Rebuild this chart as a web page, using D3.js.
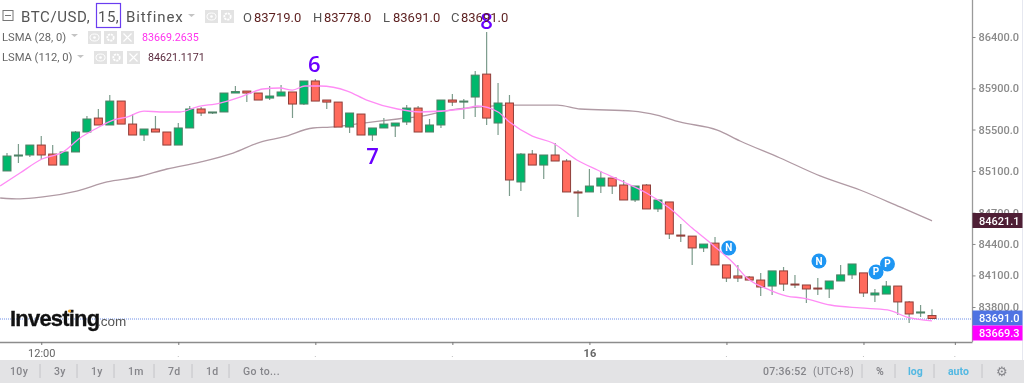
<!DOCTYPE html>
<html><head><meta charset="utf-8">
<script src="https://cdn.jsdelivr.net/npm/d3@7/dist/d3.min.js"></script>
<style>
html,body{margin:0;padding:0;background:#fff;overflow:hidden}
svg{display:block;font-family:Roboto,"Open Sans",sans-serif;filter:blur(.35px)}
</style></head><body><svg id="c" width="1024" height="383"></svg>
<script>
const opens=[85100,85244,85254,85350,85263,85157,85283,85476,85611,85544,85776,85553,85447,85505,85476,85350,85515,85699,85660,85670,85854,85873,85854,85805,85825,85864,85747,85971,85786,85766,85524,85650,85447,85515,85534,85573,85708,85476,85544,85786,85766,85815,86038,85563,85757,84994,85263,85157,85254,85196,84898,84898,84955,85032,84965,84821,84965,84735,84802,84485,84475,84362,84408,84200,84095,84085,84056,83999,84143,84018,84009,83980,83971,84047,84105,84124,83914,83923,83999,83848,83743,83719];
const closes=[85244,85254,85350,85254,85157,85283,85476,85602,85544,85776,85553,85447,85505,85476,85350,85515,85699,85660,85670,85854,85868,85854,85786,85825,85864,85747,85971,85776,85766,85524,85660,85447,85515,85553,85563,85708,85476,85544,85786,85766,85776,86028,85611,85757,85013,85263,85157,85254,85196,84898,84888,84955,85032,84955,84821,84955,84735,84821,84495,84475,84362,84399,84200,84075,84075,84056,83990,84143,84018,84009,83971,83971,84047,84105,84209,83933,83933,83999,83848,83734,83753,83691];
const highs=[85273,85360,85350,85437,85350,85283,85485,85631,85699,85834,85776,85650,85505,85631,85476,85563,85728,85718,85670,85854,85922,85873,85854,85922,85932,85864,85971,85990,85786,85766,85660,85650,85515,85611,85563,85737,85728,85602,85786,85844,85795,86067,86448,85951,85834,85273,85302,85254,85370,85215,84917,85119,85100,85032,85013,84955,84975,84821,84802,84591,84475,84399,84466,84200,84200,84095,84124,84143,84181,84105,84009,84075,84047,84200,84209,84124,83971,84047,83999,83857,83819,83778];
const lows=[85100,85177,85234,85215,85157,85157,85283,85476,85544,85544,85553,85447,85389,85476,85350,85350,85515,85631,85650,85670,85858,85766,85786,85786,85825,85611,85737,85776,85699,85524,85466,85447,85389,85515,85428,85544,85476,85476,85515,85728,85602,85621,85544,85447,84859,84907,85157,85023,85196,84898,84658,84898,84888,84878,84821,84802,84735,84706,84447,84418,84200,84324,84200,84037,84037,84056,83904,83914,83952,83980,83838,83914,83885,84047,84066,83895,83848,83923,83724,83648,83705,83691];

const lsma28Bars=[-0.6,1.14,3.06,4.9,6.4,7.9,9.3,10.5,12,13.4,15.15,16.6,18.65,20.4,21.3,22.4,23.9,25,26.1,27.4,29.8,31.5,34.2,36.2,39.9,41.2,43,44,46,47.8,49.9,51.7,54,56,58,60,61.8,63.6,64.8,66.8,68.3,69.7,72.1,74.7,77.1,78.8,81];
const lsma28Values=[84955,85080,85215,85283,85418,85515,85592,85621,85679,85670,85670,85718,85757,85815,85854,85893,85903,85883,85922,85922,85873,85786,85699,85670,85699,85728,85670,85573,85437,85370,85206,85109,84994,84888,84744,84552,84390,84219,84075,83961,83904,83885,83819,83791,83772,83705,83669.3];
const lsma112Bars=[-0.6,1.14,3.15,6.1,8.76,11.4,14,16.9,19.8,22.2,24.2,26.8,28.3,31.2,34.2,36.8,38.8,41.2,44.3,48.2,50.2,54.8,56.9,58.9,62.2,64.2,67.7,71.2,74.7,78.2,81];
const lsma112Values=[84840,84831,84850,84907,84994,85042,85119,85186,85273,85379,85428,85515,85524,85563,85602,85640,85689,85718,85737,85737,85699,85679,85640,85573,85495,85389,85225,85052,84917,84754,84621.1];

const priceTicks=[86400,85900,85500,85100,84700,84400,84100,83800];
const timeTickBars=[3,15,27,39,51,63,75,83];
const timeTickLabels=["12:00","","","","16","","",""];
const waveLabels=["6","7","8"], waveBars=[26.9,32,42], wavePrices=[86135,85244,86560];
const eventLabels=["N","N","P","P"], eventBars=[63.2,71.1,76.1,77.1], eventPrices=[84362,84237,84133,84209];
const ranges=["10y","3y","1y","1m","7d","1d","Go to..."];
const lastPrice=83691.0, lastLsma=83669.3;

const svg=d3.select("#c");
const x=d3.scaleLinear().domain([0,81]).range([7,932]);
const y=d3.scaleLog().domain([83800,86400]).range([307,37]);
const W=972.5,B=342;
const GREEN="#00b86c",RED="#ff6a5c",GB="#4f8066",RB="#8f3f3a",WICK="#7c9c8c";

svg.append("defs").append("clipPath").attr("id","p").append("rect").attr("width",W).attr("height",B);
const plot=svg.append("g").attr("clip-path","url(#p)");
plot.append("line").attr("x1",0).attr("x2",W).attr("y1",y(lastPrice)+.5).attr("y2",y(lastPrice)+.5).attr("stroke","#6f8fe8").attr("stroke-dasharray","1 1");

const line=d3.line().curve(d3.curveMonotoneX);
const path=(b,v)=>line(b.map((d,i)=>[x(d),y(v[i])]));

plot.append("path").attr("d",path(lsma112Bars,lsma112Values)).attr("fill","none").attr("stroke","#b09aa4").attr("stroke-width",1.3);
const idx=d3.range(opens.length);
const g=plot.selectAll("g.k").data(idx).join("g");
g.append("line").attr("x1",i=>x(i)).attr("x2",i=>x(i)).attr("y1",i=>y(highs[i])).attr("y2",i=>y(lows[i])).attr("stroke",WICK).attr("stroke-width",1.2);
g.append("rect").attr("x",i=>x(i)-4).attr("width",8)
 .attr("y",i=>y(Math.max(opens[i],closes[i])))
 .attr("height",i=>Math.max(1,Math.abs(y(opens[i])-y(closes[i]))))
 .attr("fill",i=>closes[i]>=opens[i]?GREEN:RED)
 .attr("stroke",i=>closes[i]>=opens[i]?GB:RB).attr("stroke-width",1);
plot.append("path").attr("d",path(lsma28Bars,lsma28Values)).attr("fill","none").attr("stroke","#ff8cf5").attr("stroke-width",1.3);

// wave numbers
svg.selectAll("text.w").data(waveLabels).join("text").attr("x",(d,i)=>x(waveBars[i])).attr("y",(d,i)=>y(wavePrices[i])+8)
 .attr("text-anchor","middle").attr("font-size",22).attr("font-weight",600).attr("fill","#6a00ff").attr("font-family","'Open Sans',sans-serif").text(d=>d);

// event bubbles
const ev=svg.selectAll("g.e").data(eventLabels).join("g").attr("transform",(d,i)=>`translate(${x(eventBars[i])},${y(eventPrices[i])})`);
ev.append("circle").attr("r",7.5).attr("fill","#1e96f3");
ev.append("text").attr("text-anchor","middle").attr("y",3.5).attr("font-size",10).attr("font-weight",700).attr("fill","#fff").text(d=>d);

// borders
svg.append("line").attr("x1",0).attr("x2",W).attr("y1",B+.5).attr("y2",B+.5).attr("stroke","#8c8c8c").attr("stroke-width",1.3);
svg.append("line").attr("x1",W).attr("x2",W).attr("y1",0).attr("y2",B).attr("stroke","#9a9a9a").attr("stroke-width",1.3);
svg.append("line").attr("x1",1022.5).attr("x2",1022.5).attr("y1",0).attr("y2",360).attr("stroke","#e6e8f0");

// price axis
const ya=svg.append("g").attr("transform",`translate(${W},0)`).call(d3.axisRight(y).tickValues(priceTicks).tickFormat(d3.format(".1f")).tickSize(3).tickPadding(3));
ya.select(".domain").remove();
ya.selectAll("text").attr("font-size",11).attr("fill","#8a8a8a").attr("font-weight",500).attr("font-family","Roboto,sans-serif");
ya.selectAll("line").attr("stroke","#888");

// time axis
const xa=svg.append("g").attr("transform",`translate(0,${B})`).call(d3.axisBottom(x).tickValues(timeTickBars).tickFormat((d,i)=>timeTickLabels[i]).tickSize(3).tickPadding(4));
xa.select(".domain").remove();
xa.selectAll("line").attr("stroke","#777");
xa.selectAll("text").attr("font-size",11).attr("fill","#666").attr("font-family","Roboto,sans-serif").attr("font-weight",(d,i)=>timeTickLabels[i]==="16"?700:400);
svg.selectAll("circle.d").data(timeTickBars.filter((d,i)=>!timeTickLabels[i])).join("circle").attr("cx",d=>x(d)).attr("cy",356.5).attr("r",.6).attr("fill","#bbb");

// price labels
[[lastPrice,"#4f73e3",310.5],[lastLsma,"#ff00ff",325.5]].forEach(([v,c,t])=>{
  svg.append("rect").attr("x",W).attr("y",t).attr("width",1022.5-W).attr("height",15).attr("fill",c);
  svg.append("text").attr("x",W+6.5).attr("y",t+11.5).attr("font-size",11).attr("font-weight",500).attr("fill","#fff").text(d3.format(".1f")(v));
});
svg.append("rect").attr("x",W).attr("y",213).attr("width",1022.5-W).attr("height",15).attr("fill","#4e1f35");
svg.append("text").attr("x",W+6.5).attr("y",224.5).attr("font-size",11).attr("font-weight",500).attr("fill","#fff").text(d3.format(".1f")(lsma112Values[lsma112Values.length-1]));

// bottom bar
svg.append("rect").attr("y",360).attr("width",1024).attr("height",23).attr("fill","#e3e3e5");
ranges.forEach((r,i)=>{
  svg.append("text").attr("x",[10,54,91,128,168,206,243][i]).attr("y",375).attr("font-size",10.5).attr("font-weight",500).attr("fill","#85858a").attr("letter-spacing",.4).text(r);
});
[40,77,114,154,192,229].forEach(v=>svg.append("line").attr("x1",v).attr("x2",v).attr("y1",364).attr("y2",378).attr("stroke","#c4c4c8"));
[[763,"07:36:52",500],[813,"(UTC+8)",400]].forEach(([v,t,w])=>svg.append("text").attr("x",v).attr("y",375).attr("font-size",10.5).attr("font-weight",w).attr("fill","#85858a").attr("letter-spacing",.3).text(t));
svg.append("text").attr("x",876).attr("y",375).attr("font-size",10.5).attr("font-weight",700).attr("fill","#85858a").text("%");
svg.append("text").attr("x",908).attr("y",375).attr("font-size",10.5).attr("font-weight",700).attr("fill","#53b8e2").text("log");
svg.append("text").attr("x",948).attr("y",375).attr("font-size",10.5).attr("font-weight",700).attr("fill","#53b8e2").text("auto");
[862,895,934,982].forEach(v=>svg.append("line").attr("x1",v).attr("x2",v).attr("y1",364).attr("y2",378).attr("stroke","#c4c4c8"));
svg.append("text").attr("x",1002).attr("y",376).attr("text-anchor","middle").attr("font-size",13).attr("fill","#85858a").text("⚙");

// logo
svg.append("text").attr("x",10).attr("y",326).attr("font-family","'Liberation Sans',sans-serif").attr("font-size",22).attr("font-weight",700).attr("letter-spacing",-.8).attr("stroke","#111").attr("stroke-width",.3).attr("fill","#111").text("Investing");
svg.append("text").attr("x",97).attr("y",326).attr("font-family","'Liberation Sans',sans-serif").attr("font-size",13.5).attr("fill","#555").text(".com");
svg.append("circle").attr("cx",69.5).attr("cy",311).attr("r",1.6).attr("fill","#f5a623");

// header
const T=(xx,yy,t,fs,c,w)=>svg.append("text").attr("x",xx).attr("y",yy).attr("font-size",fs).attr("fill",c).attr("font-weight",w||400).text(t);
svg.append("rect").attr("x",3).attr("y",10.5).attr("width",10).attr("height",10).attr("fill","none").attr("stroke","#777");
svg.append("line").attr("x1",5).attr("x2",11).attr("y1",15.5).attr("y2",15.5).attr("stroke","#777");
T(21,22,"BTC/USD,",15,"#555").attr("letter-spacing",.6);
svg.append("rect").attr("x",96.5).attr("y",3.5).attr("width",24).attr("height",24).attr("fill","none").attr("stroke","#6a3df0").attr("stroke-width",1.2);
T(98,22,"15,",15,"#555").attr("letter-spacing",.5);
T(126,22,"Bitfinex",15,"#555").attr("letter-spacing",.9);
const btn=(xx,yy,kind)=>{
  svg.append("rect").attr("x",xx).attr("y",yy).attr("width",13).attr("height",13).attr("fill","#e3e3e3");
  const cx=xx+6.5,cy=yy+6.5;
  if(kind==="eye"){svg.append("ellipse").attr("cx",cx).attr("cy",cy).attr("rx",4.5).attr("ry",3.5).attr("fill","none").attr("stroke","#fff").attr("stroke-width",1);svg.append("circle").attr("cx",cx).attr("cy",cy).attr("r",1.3).attr("fill","#fff");}
  if(kind==="gear"){svg.append("circle").attr("cx",cx).attr("cy",cy).attr("r",3.2).attr("fill","none").attr("stroke","#fff").attr("stroke-width",1.8).attr("stroke-dasharray","2.2 .8");}
  if(kind==="x"){svg.append("path").attr("d",`M${cx-4},${cy-4}L${cx+4},${cy+4}M${cx+4},${cy-4}L${cx-4},${cy+4}`).attr("stroke","#fff").attr("stroke-width",1.1);}
};
[205,221].forEach((v,i)=>btn(v,10,["eye","gear"][i]));
[88,104,121].forEach((v,i)=>btn(v,31,["eye","gear","x"][i]));
[94,110,127].forEach((v,i)=>btn(v,51,["eye","gear","x"][i]));
const tri=(xx,yy)=>svg.append("path").attr("d",`M${xx},${yy}h7l-3.5,3z`).attr("fill","#c4c4c4");
tri(188,14);tri(71,34);tri(77,55);
T(243,22,"O",13,"#555"); T(254,22,"83719.0",13,"#5c1f1f");
T(313,22,"H",13,"#555"); T(324,22,"83778.0",13,"#5c1f1f");
T(383,22,"L",13,"#555"); T(393,22,"83691.0",13,"#5c1f1f");
T(451,22,"C",13,"#555"); T(461,22,"83691.0",13,"#5c1f1f");
T(2,41,"LSMA (28, 0)",11.2,"#666");
T(2,61,"LSMA (112, 0)",11.2,"#666");
T(142,41,"83669.2635",10.7,"#ff33ee");
T(148,61,"84621.1171",10.7,"#5a2a3d");
</script></body></html>
